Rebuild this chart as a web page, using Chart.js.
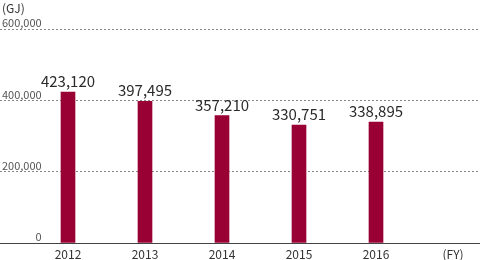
<!DOCTYPE html>
<html>
<head>
<meta charset="utf-8">
<script src="https://cdn.jsdelivr.net/npm/chart.js@4/dist/chart.umd.min.js"></script>
<style>
  html, body { margin: 0; padding: 0; background: #fff; }
  #wrap { width: 480px; height: 260px; position: relative; }
</style>
</head>
<body>
<div id="wrap"><canvas id="energyChart"></canvas></div>
<script>
// Energy consumption by fiscal year
const years = ['2012', '2013', '2014', '2015', '2016'];
const energyGJ = [423120, 397495, 357210, 330751, 338895];
const xLabels = ['2012', '2013', '2014', '2015', '2016', '(FY)'];
const yTicks = [0, 200000, 400000, 600000];
const unitLabel = '(GJ)';

const FONT = '"Noto Sans CJK JP", "Noto Sans", sans-serif';

const points = energyGJ.map((v, i) => ({ x: i, y: v }));

// value labels above each bar + unit label at top left
const labelPlugin = {
    id: 'labelPlugin',
    afterDatasetsDraw(chart) {
        const ctx = chart.ctx;
        const meta = chart.getDatasetMeta(0);
        ctx.save();
        ctx.fillStyle = '#2a2a2a';
        ctx.font = '15px ' + FONT;
        ctx.textAlign = 'center';
        ctx.textBaseline = 'alphabetic';
        meta.data.forEach((bar, i) => {
            ctx.fillText(energyGJ[i].toLocaleString('en-US'), bar.x, bar.y - 5);
        });
        ctx.font = '12px ' + FONT;
        ctx.textAlign = 'left';
        ctx.fillStyle = '#333';
        ctx.fillText(unitLabel, 2, 13);
        ctx.restore();
    }
};

new Chart(document.getElementById('energyChart'), {
    type: 'bar',
    data: {
        datasets: [{
            data: points,
            backgroundColor: '#990033',
            barThickness: 14
        }]
    },
    options: {
        responsive: true,
        maintainAspectRatio: false,
        animation: false,
        layout: { padding: { top: 29, left: 0, right: 0, bottom: 0 } },
        plugins: {
            legend: { display: false },
            tooltip: { enabled: false }
        },
        scales: {
            x: {
                type: 'linear',
                offset: false,
                bounds: 'data',
                min: -68 / 77,
                max: -68 / 77 + 480 / 77,
                afterBuildTicks: (scale) => { scale.ticks = xLabels.map((l, i) => ({ value: i })); },
                afterFit: (scale) => { scale.height = 17; },
                grid: { display: false, drawTicks: false, offset: false },
                border: { display: true, color: '#444', width: 1 },
                ticks: {
                    autoSkip: false,
                    maxRotation: 0,
                    padding: 4,
                    color: '#333',
                    font: { family: FONT, size: 12 },
                    callback: (v) => xLabels[v] !== undefined ? xLabels[v] : ''
                }
            },
            y: {
                min: 0,
                max: 600000,
                afterBuildTicks: (scale) => { scale.ticks = yTicks.map(v => ({ value: v })); },
                afterFit: (scale) => { scale.width = 0; },
                grid: {
                    drawTicks: false,
                    color: (c) => c.tick && c.tick.value === 0 ? 'rgba(0,0,0,0)' : '#888'
                },
                border: { display: false, dash: [2, 2] },
                ticks: {
                    mirror: true,
                    crossAlign: 'far',
                    padding: 2,
                    labelOffset: -6,
                    color: '#555',
                    font: { family: FONT, size: 11 },
                    callback: (v) => v.toLocaleString('en-US')
                }
            }
        }
    },
    plugins: [labelPlugin]
});
</script>
</body>
</html>
